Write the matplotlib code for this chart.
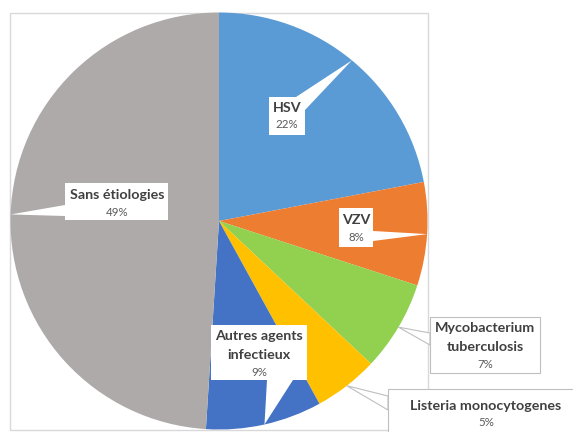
import numpy as np
import matplotlib.pyplot as plt
from matplotlib.patches import Rectangle, Polygon

plt.rcParams['font.family'] = ['Lato', 'DejaVu Sans']

labels = ['HSV', 'VZV', 'Mycobacterium\ntuberculosis', 'Listeria monocytogenes',
          'Autres agents\ninfectieux', 'Sans étiologies']
values = [22, 8, 7, 5, 9, 49]
colors = ['#5B9BD5', '#ED7D31', '#92D050', '#FFC000', '#4472C4', '#AEAAAA']

W, H = 573, 432
CX, CY, R = 219, 221, 208.5


def P(x, y):
    # pixel position (from top left) -> data units of the pie
    return (x - CX) / R, (CY - y) / R


# label layout in pixels: box (l, t, r, b), text x, first line y, pointer base, outside?
layout = [
    dict(box=(269, 97, 305, 135), tx=287, ty=108, base=[(296, 97), (305, 110)], out=False),
    dict(box=(339, 208, 373, 247), tx=356, ty=220, base=[(373, 231), (373, 241)], out=False),
    dict(box=(430, 317, 540, 373), tx=485, ty=328, base=[(430, 333), (430, 345)], out=True),
    dict(box=(388, 389, 590, 440), tx=486, ty=406, base=[(388, 396), (388, 410)], out=True),
    dict(box=(211, 325, 307, 380), tx=259, ty=336, base=[(267, 380), (293, 380)], out=False),
    dict(box=(65, 183, 168, 220), tx=117, ty=195, base=[(65, 205), (65, 216)], out=False),
]

fig = plt.figure(figsize=(W / 100, H / 100), dpi=100)
ax = fig.add_axes([0, 0, 1, 1])

wedges, _ = ax.pie(values, colors=colors, startangle=90, counterclock=False,
                   radius=1, wedgeprops=dict(linewidth=0))
for w in wedges:
    w.set_zorder(1)

ax.set_aspect('auto')
ax.set_xlim(-CX / R, (W - CX) / R)
ax.set_ylim(-(H - CY) / R, CY / R)
ax.axis('off')

# plot area border
x0, y0 = P(10, 430)
ax.add_patch(Rectangle((x0, y0), 418 / R, 417 / R, fill=False,
                       ec='#D9D9D9', lw=1, zorder=0.5))

step = 19
for w, lab, v, lay in zip(wedges, labels, values, layout):
    mid = np.deg2rad((w.theta1 + w.theta2) / 2)
    tip = (np.cos(mid), np.sin(mid))
    ec = '#BFBFBF' if lay['out'] else 'none'
    pts = [P(*lay['base'][0]), tip, P(*lay['base'][1])]
    ax.add_patch(Polygon(pts, closed=True, fc='white', ec=ec, lw=0.8, zorder=2))
    l, t, r, b = lay['box']
    bx, by = P(l, b)
    ax.add_patch(Rectangle((bx, by), (r - l) / R, (b - t) / R, fc='white',
                           ec=ec, lw=0.8, zorder=3))
    lines = lab.split('\n')
    for i, line in enumerate(lines):
        ax.text(*P(lay['tx'], lay['ty'] + i * step), line, ha='center', va='center',
                fontsize=10.3, fontweight='bold', color='#404040', zorder=4)
    py = lay['ty'] + (len(lines) - 1) * step + 17
    ax.text(*P(lay['tx'], py), f'{v}%', ha='center', va='center',
            fontsize=8.3, color='#595959', zorder=4)

fig.savefig('out.png', dpi=100)
